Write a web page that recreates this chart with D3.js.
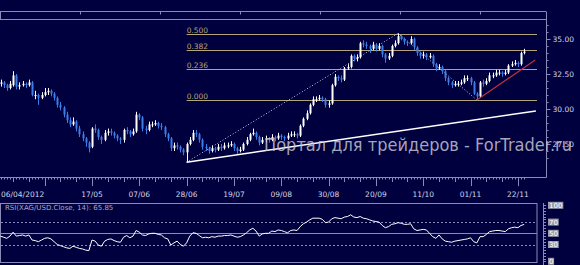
<!DOCTYPE html>
<html>
<head>
<meta charset="utf-8">
<script src="https://cdn.jsdelivr.net/npm/d3@7"></script>
<style>
  html, body { margin: 0; padding: 0; background: #00003f; }
  svg { display: block; }
</style>
</head>
<body>
<div id="chart"></div>
<script>
// XAG/USD daily candles, 06/04/2012 .. 26/11/2012
const opens = [
  31.8,31.9,31.7,31.5,31.7,32.4,31.6,31.7,31.8,31.7,
  31.9,31.0,31.0,30.8,31.0,31.2,31.3,31.1,30.8,30.3,
  30.1,29.6,29.2,28.9,29.1,28.6,28.2,27.9,27.6,27.3,
  28.6,28.5,28.0,27.8,28.3,28.4,28.3,28.1,27.9,27.8,
  28.5,28.4,28.2,28.4,29.6,29.4,28.6,28.5,28.9,28.9,
  29.0,28.8,28.7,28.2,27.9,27.2,27.4,27.3,27.1,26.9,
  27.5,27.8,28.3,28.2,27.8,27.3,27.2,27.0,27.2,27.1,
  27.3,27.2,27.4,27.4,27.5,27.2,27.0,27.1,27.5,27.8,
  28.2,28.3,28.0,27.6,27.8,27.9,27.8,28.0,27.9,28.1,
  28.0,27.9,28.1,28.2,28.2,28.1,28.8,29.3,29.7,30.3,
  30.7,30.7,30.8,30.7,30.3,30.4,31.7,32.3,32.2,32.1,
  32.9,33.0,33.8,33.6,33.7,34.7,34.6,34.5,34.3,34.6,
  34.3,34.5,33.9,33.6,33.8,34.5,34.7,35.2,35.0,34.8,
  34.7,35.0,34.4,34.0,33.8,33.9,33.7,33.8,33.2,32.9,
  33.0,32.7,32.2,31.9,31.7,31.8,31.8,31.9,32.2,32.2,
  31.9,31.1,30.9,31.9,31.8,32.0,32.4,32.4,32.6,32.6,
  32.5,32.6,33.1,33.2,33.3,33.2,34.0
]
const closes = [
  31.9,31.7,31.5,31.8,32.4,31.6,31.7,31.8,31.7,31.9,
  31.0,31.0,30.8,31.0,31.2,31.3,31.1,30.8,30.3,30.1,
  29.6,29.2,28.9,29.1,28.6,28.2,27.9,27.6,27.2,28.6,
  28.5,28.0,27.8,28.3,28.4,28.3,28.1,27.9,27.8,28.5,
  28.4,28.2,28.4,29.6,29.4,28.6,28.5,28.9,28.9,29.0,
  28.8,28.7,28.2,27.9,27.2,27.4,27.3,27.1,26.9,27.5,
  27.8,28.3,28.2,27.8,27.3,27.2,27.0,27.2,27.1,27.3,
  27.2,27.4,27.4,27.5,27.2,27.0,27.1,27.5,27.8,28.2,
  28.3,28.0,27.6,27.8,27.9,27.8,28.0,27.9,28.1,28.0,
  27.9,28.1,28.2,28.2,28.1,28.8,29.3,29.7,30.3,30.7,
  30.7,30.8,30.7,30.3,30.4,31.7,32.3,32.2,32.1,32.9,
  33.0,33.8,33.6,33.7,34.7,34.6,34.5,34.3,34.6,34.3,
  34.5,33.9,33.6,33.8,34.5,34.7,35.2,35.0,34.8,34.7,
  35.0,34.4,34.0,33.8,33.9,33.7,33.8,33.2,32.9,33.0,
  32.7,32.2,31.9,31.7,31.8,31.8,31.9,32.2,32.2,31.9,
  31.1,30.9,31.9,31.8,32.0,32.4,32.4,32.6,32.6,32.5,
  32.6,33.1,33.2,33.3,33.2,34.0,34.1
]
const highs = [
  32.1,32.0,31.8,32.0,32.7,32.5,31.9,32.0,31.9,32.1,
  32.0,31.3,31.1,31.2,31.5,31.5,31.4,31.2,30.9,30.5,
  30.2,29.8,29.4,29.4,29.2,28.8,28.4,28.0,27.7,28.7,
  28.9,28.6,28.1,28.5,28.6,28.6,28.4,28.2,28.0,28.6,
  28.7,28.5,28.6,29.8,29.7,29.5,28.8,29.1,29.1,29.2,
  29.1,29.0,28.8,28.3,28.0,27.6,27.6,27.4,27.2,27.6,
  28.0,28.5,28.5,28.3,27.9,27.5,27.3,27.4,27.3,27.5,
  27.5,27.6,27.6,27.7,27.6,27.3,27.3,27.6,28.0,28.3,
  28.6,28.4,28.1,28.0,28.1,28.0,28.2,28.1,28.3,28.2,
  28.1,28.3,28.4,28.4,28.3,28.9,29.4,29.9,30.4,30.9,
  30.9,31.0,30.9,30.8,30.6,31.8,32.5,32.4,32.4,33.0,
  33.2,33.9,33.9,33.9,34.8,34.9,34.8,34.6,34.8,34.7,
  34.7,34.6,34.0,34.0,34.6,34.9,35.4,35.3,35.1,34.9,
  35.2,35.1,34.5,34.1,34.1,34.0,34.0,33.9,33.3,33.2,
  33.1,32.8,32.3,32.0,32.0,32.0,32.1,32.4,32.4,32.3,
  32.0,31.2,32.0,32.1,32.2,32.6,32.6,32.8,32.8,32.7,
  32.8,33.2,33.4,33.5,33.4,34.1,34.3
]
const lows = [
  31.6,31.5,31.3,31.4,31.6,31.4,31.4,31.6,31.5,31.6,
  30.9,30.7,30.3,30.7,30.9,31.0,30.9,30.6,30.1,29.9,
  29.4,29.0,28.7,28.8,28.4,28.0,27.7,27.3,26.9,27.2,
  28.3,27.8,27.5,27.7,28.1,28.1,27.9,27.7,27.5,27.6,
  28.2,28.0,28.1,28.3,29.2,28.4,28.2,28.4,28.7,28.8,
  28.6,28.5,28.0,27.7,27.0,27.0,27.1,26.9,26.7,26.2,
  27.4,27.7,28.0,27.6,27.1,27.0,26.8,26.9,26.9,27.0,
  27.0,27.1,27.2,27.3,27.0,26.8,26.9,27.0,27.4,27.7,
  28.1,27.8,27.4,27.5,27.6,27.6,27.7,27.7,27.8,27.8,
  27.7,27.8,28.0,28.0,27.9,28.0,28.7,29.2,29.6,30.2,
  30.5,30.6,30.5,30.1,30.1,30.3,31.6,32.0,31.9,32.0,
  32.8,32.9,33.4,33.4,33.6,34.4,34.3,34.0,34.2,34.1,
  34.2,33.7,33.3,33.5,33.7,34.4,34.6,34.9,34.6,34.5,
  34.6,34.2,33.8,33.6,33.6,33.5,33.6,33.0,32.7,32.8,
  32.5,32.0,31.7,31.5,31.6,31.6,31.7,31.8,32.0,31.7,
  31.0,30.64,30.8,31.6,31.7,31.9,32.2,32.3,32.4,32.3,
  32.4,32.5,33.0,33.1,33.0,33.1,33.9
]
// RSI(14)
const rsiValues = [
  45,43,41,45,52,45,46,47,45,47,
  38,37,35,38,41,42,40,35,30,28,
  26,24,23,27,25,23,22,20,19,38,
  36,29,27,36,39,40,37,35,34,43,
  46,42,45,55,52,47,46,49,50,50,
  48,47,42,40,29,33,36,30,27,33,
  45,51,50,46,42,43,42,44,43,45,
  45,46,46,47,45,43,44,47,51,56,
  59,54,45,49,50,50,54,53,56,55,
  53,51,55,56,55,62,67,70,74,77,
  77,77,75,69,70,76,78,77,76,79,
  80,83,79,78,80,77,76,74,72,71,
  70,64,60,62,66,67,69,68,66,66,
  67,58,55,56,57,56,50,44,41,47,
  40,36,35,34,36,37,38,39,40,42,
  35,33,44,44,48,53,54,55,55,54,
  53,58,60,61,60,64,65.85
]

const dateLabels = ["06/04/2012", "17/05", "07/06", "28/06", "19/07", "09/08", "30/08", "20/09", "11/10", "01/11", "22/11"]
const dateIndex = [0, 29, 44, 59, 74, 89, 104, 119, 134, 149, 164]
const priceTicks = [27.5, 30, 32.5, 35]
const rsiTicks = [0, 30, 50, 70, 100]

const fibLevels = [0, 0.236, 0.382, 0.5]
const fibLow = 30.64
const fibHigh = 40.03
const fibStart = 59

// [index, price] pairs
const trendLine = [[59, 26.2], [169.7, 29.86]]
const redLine = [[151, 30.64], [169.5, 33.5]]
const dottedLines = [
  [[59, 26.2], [126, 35.4]],
  [[126, 35.4], [151, 30.64]]
]

const rsiTitle = "RSI(XAG/USD.Close, 14): 65.85"
const watermark = "Портал для трейдеров - ForTrader.ru"

const W = 580, H = 265
const plotRight = 546
const mainTop = 19, mainBottom = 177
const rsiTop = 203, rsiBottom = 262, rsiRight = 537

const bg = "#00003f"
const frame = "#8a8ab8"
const bull = "#ffffff"
const bear = "#3c7de6"
const fibColor = "#b4a57a"
const labelColor = "#d4d4e4"
const font = "DejaVu Sans, sans-serif"

const candles = closes.map((c, i) => ({ i, o: opens[i], h: highs[i], l: lows[i], c }))

const xScale = d3.scaleLinear().domain([0, 166]).range([0.5, 524.2])
const yScale = d3.scaleLinear().domain([27.5, 35]).range([144, 39])
const rsiScale = d3.scaleLinear().domain([0, 100]).range([261.3, 205.3])

const svg = d3.select("#chart").append("svg")
  .attr("width", W).attr("height", H)
  .attr("viewBox", `0 0 ${W} ${H}`)

svg.append("rect").attr("width", W).attr("height", H).attr("fill", bg)

// top strip
svg.append("line").attr("x1", 0).attr("x2", plotRight).attr("y1", 11.5).attr("y2", 11.5)
  .attr("stroke", frame)
svg.append("line").attr("x1", 0).attr("x2", plotRight).attr("y1", 19.5).attr("y2", 19.5)
  .attr("stroke", frame)
svg.append("line").attr("x1", 0.5).attr("x2", 0.5).attr("y1", 11.5).attr("y2", 19.5)
  .attr("stroke", frame)
svg.selectAll(".stripTick")
  .data(d3.range(80, plotRight, 80))
  .enter().append("line")
  .attr("x1", d => d + 0.5).attr("x2", d => d + 0.5)
  .attr("y1", 11.5).attr("y2", 14.5)
  .attr("stroke", frame)

const main = svg.append("g")

// fibonacci levels
fibLevels.forEach(lv => {
  const p = fibLow + lv * (fibHigh - fibLow)
  const y = Math.round(yScale(p)) + 0.5
  main.append("line")
    .attr("x1", xScale(fibStart)).attr("x2", rsiRight)
    .attr("y1", y).attr("y2", y)
    .attr("stroke", fibColor).attr("stroke-width", 1)
  main.append("text")
    .attr("x", xScale(fibStart)).attr("y", y - 2)
    .attr("fill", fibColor)
    .attr("font-family", font).attr("font-size", 7.5)
    .text(lv.toFixed(3))
})

// dotted swing lines
dottedLines.forEach(seg => {
  main.append("line")
    .attr("x1", xScale(seg[0][0])).attr("y1", yScale(seg[0][1]))
    .attr("x2", xScale(seg[1][0])).attr("y2", yScale(seg[1][1]))
    .attr("stroke", "#c8c8e0").attr("stroke-width", 1)
    .attr("stroke-dasharray", "1,2")
})

// candles
const cg = main.append("g")
cg.selectAll(".wick")
  .data(candles)
  .enter().append("line")
  .attr("x1", d => Math.round(xScale(d.i)) + 0.5)
  .attr("x2", d => Math.round(xScale(d.i)) + 0.5)
  .attr("y1", d => yScale(d.h))
  .attr("y2", d => yScale(d.l))
  .attr("stroke", d => d.c >= d.o ? bull : bear)
  .attr("stroke-width", 1)

cg.selectAll(".body")
  .data(candles)
  .enter().append("rect")
  .attr("x", d => Math.round(xScale(d.i)) - 0.5)
  .attr("width", 2)
  .attr("y", d => yScale(Math.max(d.o, d.c)))
  .attr("height", d => Math.max(1, Math.abs(yScale(d.o) - yScale(d.c))))
  .attr("fill", d => d.c >= d.o ? bull : bear)

// trend lines
main.append("line")
  .attr("x1", xScale(trendLine[0][0])).attr("y1", yScale(trendLine[0][1]))
  .attr("x2", xScale(trendLine[1][0])).attr("y2", yScale(trendLine[1][1]))
  .attr("stroke", "#ffffff").attr("stroke-width", 1.6)

main.append("line")
  .attr("x1", xScale(redLine[0][0])).attr("y1", yScale(redLine[0][1]))
  .attr("x2", xScale(redLine[1][0])).attr("y2", yScale(redLine[1][1]))
  .attr("stroke", "#c0303a").attr("stroke-width", 1.2)

// right price axis
const rightAxis = d3.axisRight(yScale)
  .tickValues(priceTicks)
  .tickFormat(d3.format(".2f"))
  .tickSize(4)
  .tickPadding(2)

const rAxisG = svg.append("g")
  .attr("transform", `translate(${plotRight + 0.5},0)`)
  .call(rightAxis)
rAxisG.select(".domain").remove()
rAxisG.selectAll("line").attr("stroke", frame)
rAxisG.selectAll("text")
  .attr("fill", labelColor).attr("font-family", font).attr("font-size", 7.5)

svg.selectAll(".pMinor")
  .data(d3.range(26.5, 36.01, 0.5))
  .enter().append("line")
  .attr("x1", plotRight).attr("x2", plotRight + 2.5)
  .attr("y1", d => Math.round(yScale(d)) + 0.5)
  .attr("y2", d => Math.round(yScale(d)) + 0.5)
  .attr("stroke", frame)

svg.append("line")
  .attr("x1", plotRight + 0.5).attr("x2", plotRight + 0.5)
  .attr("y1", 11.5).attr("y2", mainBottom + 0.5)
  .attr("stroke", frame)

// bottom date axis
svg.append("line")
  .attr("x1", 0).attr("x2", plotRight + 0.5)
  .attr("y1", mainBottom + 0.5).attr("y2", mainBottom + 0.5)
  .attr("stroke", frame)

svg.selectAll(".dMinor")
  .data(d3.range(0, 167, 1))
  .enter().append("line")
  .attr("x1", d => Math.round(xScale(d)) + 0.5)
  .attr("x2", d => Math.round(xScale(d)) + 0.5)
  .attr("y1", mainBottom)
  .attr("y2", d => mainBottom + (d % 5 === 4 ? 5 : 2.5))
  .attr("stroke", frame)

const majorIdx = [14].concat(dateIndex.slice(1))
svg.selectAll(".dMajor")
  .data(majorIdx)
  .enter().append("line")
  .attr("x1", d => Math.round(xScale(d)) + 0.5)
  .attr("x2", d => Math.round(xScale(d)) + 0.5)
  .attr("y1", mainBottom).attr("y2", mainBottom + 9)
  .attr("stroke", frame)

svg.selectAll(".dLabel")
  .data(dateLabels)
  .enter().append("text")
  .attr("x", (d, k) => k === 0 ? 1 : xScale(dateIndex[k]))
  .attr("y", 197)
  .attr("text-anchor", (d, k) => k === 0 ? "start" : "middle")
  .attr("fill", labelColor)
  .attr("font-family", font).attr("font-size", 7.5)
  .text(d => d)

// RSI panel
svg.append("rect")
  .attr("x", 0.5).attr("y", rsiTop + 0.5)
  .attr("width", rsiRight - 0.5).attr("height", rsiBottom - rsiTop)
  .attr("fill", "none").attr("stroke", frame)

;[30, 70].forEach(v => {
  svg.append("line")
    .attr("x1", 1).attr("x2", rsiRight)
    .attr("y1", Math.round(rsiScale(v)) + 0.5).attr("y2", Math.round(rsiScale(v)) + 0.5)
    .attr("stroke", frame).attr("stroke-dasharray", "2,2")
})
svg.append("line")
  .attr("x1", 1).attr("x2", rsiRight)
  .attr("y1", Math.round(rsiScale(50)) + 0.5).attr("y2", Math.round(rsiScale(50)) + 0.5)
  .attr("stroke", frame)

svg.append("path")
  .datum(rsiValues)
  .attr("fill", "none")
  .attr("stroke", "#ffffff").attr("stroke-width", 1)
  .attr("d", d3.line().x((d, i) => xScale(i)).y(d => rsiScale(d)))

svg.append("text")
  .attr("x", 5).attr("y", 210)
  .attr("fill", "#a8a8c4")
  .attr("font-family", font).attr("font-size", 7)
  .text(rsiTitle)

// RSI axis
svg.append("line")
  .attr("x1", plotRight - 2.5).attr("x2", plotRight - 2.5)
  .attr("y1", rsiTop).attr("y2", H)
  .attr("stroke", frame)

svg.selectAll(".rMinor")
  .data(d3.range(0, 101, 5))
  .enter().append("line")
  .attr("x1", plotRight - 2.5).attr("x2", plotRight)
  .attr("y1", d => Math.round(rsiScale(d)) + 0.5)
  .attr("y2", d => Math.round(rsiScale(d)) + 0.5)
  .attr("stroke", frame)

const rl = svg.selectAll(".rLabel")
  .data(rsiTicks)
  .enter().append("g")
  .attr("transform", d => `translate(${plotRight + 2},${rsiScale(d)})`)
rl.append("rect")
  .attr("x", 0).attr("y", -3.5)
  .attr("width", d => String(d).length * 4.6 + 1.5).attr("height", 7)
  .attr("fill", "#9a9aa8")
rl.append("text")
  .attr("x", 1).attr("y", 2.6)
  .attr("fill", "#ffffff")
  .attr("font-family", font).attr("font-size", 7)
  .text(d => d)

// watermark
svg.append("text")
  .attr("x", 264).attr("y", 151)
  .attr("fill", "#c4c4d0").attr("fill-opacity", 0.85)
  .attr("font-family", font).attr("font-size", 17)
  .attr("textLength", 308).attr("lengthAdjust", "spacingAndGlyphs")
  .text(watermark)
</script>
</body>
</html>
